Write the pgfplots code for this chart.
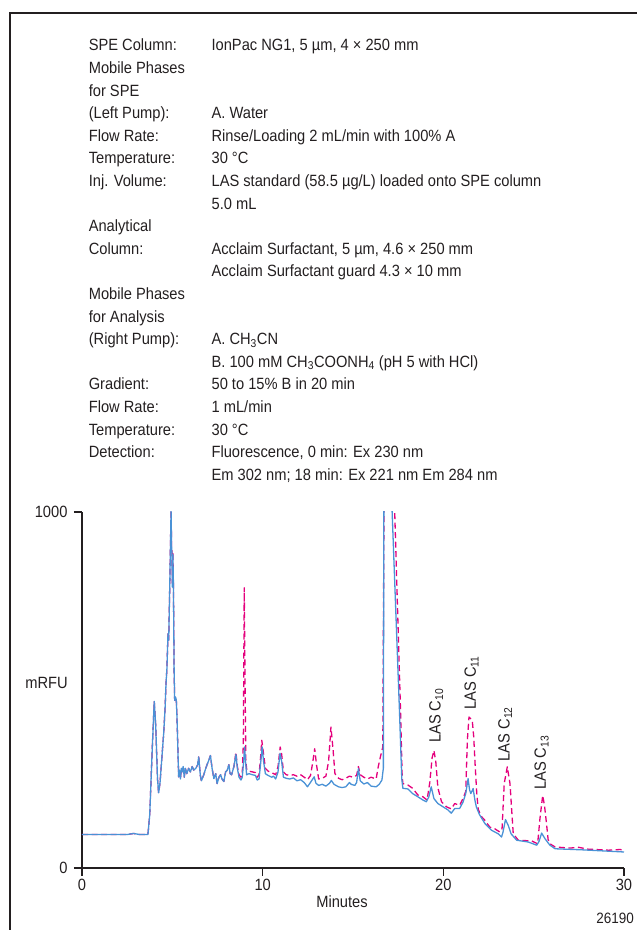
\documentclass[border=0pt]{standalone}
\usepackage{fontspec}
\setmainfont{Liberation Sans}[FakeStretch=0.9]
\usepackage{pgfplots}
\pgfplotsset{compat=1.18}
\definecolor{cblue}{RGB}{74,146,214}
\definecolor{cmag}{RGB}{228,0,124}
\definecolor{axc}{RGB}{35,31,32}
\newcommand\txtfont{\fontsize{16.3}{22.6}\selectfont}
\newcommand\row[3]{%
  \node[anchor=base west,inner sep=0pt,font=\txtfont,text=axc] at (88.6pt,{879pt-22.6pt*#1}) {#2};
  \node[anchor=base west,inner sep=0pt,font=\txtfont,text=axc] at (211.4pt,{879pt-22.6pt*#1}) {#3};}
\begin{document}
\begin{tikzpicture}
\useasboundingbox (0pt,0pt) rectangle (637pt,930pt);
\draw[line width=1.3pt, axc] (10pt,-2pt) -- (10pt,917pt) -- (640pt,917pt);
\row{0}{SPE Column:}{IonPac NG1, 5 µm, 4 × 250 mm}
\row{1}{Mobile Phases}{}
\row{2}{for SPE}{}
\row{3}{(Left Pump):}{A. Water}
\row{4}{Flow Rate:}{Rinse/Loading 2 mL/min with 100\% A}
\row{5}{Temperature:}{30 °C}
\row{6}{Inj. Volume:}{LAS standard (58.5 µg/L) loaded onto SPE column}
\row{7}{}{5.0 mL}
\row{8}{Analytical}{}
\row{9}{Column:}{Acclaim Surfactant, 5 µm, 4.6 × 250 mm}
\row{10}{}{Acclaim Surfactant guard 4.3 × 10 mm}
\row{11}{Mobile Phases}{}
\row{12}{for Analysis}{}
\row{13}{(Right Pump):}{A. CH\textsubscript{3}CN}
\row{14}{}{B. 100 mM CH\textsubscript{3}COONH\textsubscript{4} (pH 5 with HCl)}
\row{15}{Gradient:}{50 to 15\% B in 20 min}
\row{16}{Flow Rate:}{1 mL/min}
\row{17}{Temperature:}{30 °C}
\row{18}{Detection:}{Fluorescence, 0 min: Ex 230 nm}
\row{19}{}{Em 302 nm; 18 min: Ex 221 nm Em 284 nm}
\begin{axis}[
  at={(82pt,62pt)}, anchor=origin, scale only axis,
  width=542pt, height=356pt,
  xmin=0, xmax=30, ymin=0, ymax=1000,
  axis x line=bottom, axis y line=left,
  axis line style={-, line width=1.2pt, axc},
  xtick={0,10,20,30}, ytick={0,1000},
  tick align=outside, major tick length=8pt,
  tick style={line width=1.2pt, axc},
  ticklabel style={font=\txtfont, text=axc},
  yticklabel style={xshift=-3pt},
  /pgf/number format/assume math mode=true,
  /pgf/number format/1000 sep={},
  clip=true,
]
\addplot[cmag, line width=1.3pt, line join=round, dash pattern=on 6pt off 3.5pt] coordinates {
(0,94)(2.5,94)(2.85,97)(3.2,94)(3.65,94)(3.75,150)(3.9,350)(4.0,468)(4.08,400)(4.18,250)(4.24,211)(4.32,240)(4.45,330)(4.52,377)(4.6,450)(4.65,518)(4.7,560)(4.76,658)(4.8,640)(4.86,800)(4.93,1005)(4.96,900)(4.98,888)(5.0,800)(5.03,888)(5.06,800)(5.1,550)(5.13,471)(5.18,480)(5.22,471)(5.26,420)(5.35,256)(5.4,275)(5.45,250)(5.5,280)(5.54,270)(5.6,285)(5.66,255)(5.72,280)(5.8,265)(5.9,280)(6.0,270)(6.1,285)(6.18,275)(6.3,280)(6.4,290)(6.46,312)(6.55,260)(6.61,245)(6.74,262)(6.85,280)(6.92,290)(7.0,300)(7.11,316)(7.2,280)(7.3,251)(7.4,265)(7.48,237)(7.58,255)(7.67,262)(7.75,250)(7.85,243)(7.95,270)(8.04,275)(8.13,290)(8.2,265)(8.28,262)(8.41,285)
(8.52,325)(8.6,285)(8.69,262)(8.8,255)(8.87,265)(8.93,350)(8.98,787)(9.03,500)(9.07,300)(9.12,275)(9.24,272)(9.43,270)(9.6,268)(9.7,255)(9.8,262)(9.9,320)(9.95,359)(10.05,320)(10.15,280)(10.3,272)(10.5,268)(10.72,262)(10.85,285)(10.97,340)(11.05,320)(11.15,270)(11.3,262)(11.5,260)(11.7,262)(11.9,258)(12.1,262)(12.3,255)(12.48,248)(12.65,260)(12.78,300)(12.88,335)(12.98,290)(13.1,250)(13.3,252)(13.5,258)(13.65,300)(13.78,396)(13.9,330)(14.0,265)(14.2,252)(14.4,248)(14.6,252)(14.8,258)(15.0,255)(15.2,260)(15.3,285)(15.4,262)(15.6,255)(15.8,250)(16.0,255)(16.28,250)(16.4,285)(16.52,313)(16.65,340)(16.72,1050)(17.28,1050)(17.63,444)(17.72,260)(17.76,237)(18.04,233)(18.3,224)(18.59,205)(18.87,200)(19.1,191)(19.25,240)(19.38,310)(19.48,330)(19.58,300)(19.7,225)(19.9,186)(20.17,172)(20.44,166)(20.63,181)(20.9,176)(21.09,195)(21.24,215)(21.33,359)(21.42,424)(21.5,420)(21.6,415)(21.68,370)(21.76,290)(21.85,210)(21.93,165)(22.1,145)(22.3,134)(22.57,115)(22.85,110)(23.13,101)(23.25,110)(23.37,237)(23.54,284)(23.69,237)(23.8,150)(23.87,96)(24.15,78)(24.89,76)(25.22,68)(25.35,140)(25.5,204)(25.6,175)(25.7,130)(25.8,80)(25.9,68)(26.19,59)(27.0,56)(27.5,58)(28.0,53)(29.15,50)(29.8,52)(30,48)
};
\addplot[cblue, line width=1.3pt, line join=round] coordinates {
(0,94)(2.5,94)(2.85,97)(3.2,94)(3.65,94)(3.75,150)(3.9,350)(4.0,468)(4.08,400)(4.18,250)(4.24,211)(4.32,240)(4.45,330)(4.52,377)(4.6,450)(4.65,518)(4.7,560)(4.76,658)(4.8,640)(4.86,800)(4.93,1005)(4.96,900)(4.98,883)(5.0,789)(5.03,880)(5.06,800)(5.1,550)(5.13,471)(5.18,480)(5.22,471)(5.26,420)(5.35,256)(5.4,275)(5.45,250)(5.5,280)(5.54,270)(5.6,285)(5.66,255)(5.72,280)(5.8,265)(5.9,280)(6.0,270)(6.1,285)(6.18,275)(6.3,280)(6.4,290)(6.46,312)(6.55,260)(6.61,245)(6.74,262)(6.85,280)(6.92,290)(7.0,300)(7.11,316)(7.2,280)(7.3,251)(7.4,265)(7.48,237)(7.58,255)(7.67,262)(7.75,250)(7.85,243)(7.95,270)(8.04,275)(8.13,290)(8.2,265)(8.28,262)(8.41,285)(8.52,319)(8.6,280)(8.69,255)(8.8,247)(8.87,255)(8.95,300)(9.0,340)(9.05,300)(9.11,262)(9.24,265)(9.43,262)(9.6,260)(9.7,247)(9.8,250)(9.9,300)(9.97,340)(10.05,300)(10.15,265)(10.3,260)(10.5,255)(10.6,258)(10.72,250)(10.85,270)(10.96,322)(11.05,300)(11.15,255)(11.3,252)(11.5,250)(11.7,253)(11.9,245)(12.1,248)(12.3,240)(12.48,228)(12.6,237)(12.85,256)(12.95,238)(13.1,232)(13.3,235)(13.5,230)(13.7,238)(13.8,246)(13.95,235)(14.2,228)(14.4,226)(14.6,228)(14.8,240)(14.9,235)(15.1,232)(15.2,240)(15.3,279)(15.4,245)(15.6,236)(15.8,240)(16.0,230)(16.28,228)(16.45,235)(16.6,247)(16.68,280)(16.71,1050)(17.13,1050)(17.57,444)(17.7,250)(17.76,224)(18.04,222)(18.3,209)(18.59,200)(18.87,191)(19.06,186)(19.2,200)(19.33,228)(19.48,195)(19.7,181)(19.98,172)(20.26,163)(20.44,154)(20.63,167)(20.9,167)(21.09,185)(21.24,209)(21.37,251)(21.45,220)(21.52,209)(21.65,223)(21.75,190)(21.83,171)(22.0,150)(22.3,125)(22.67,106)(23.04,96)(23.22,87)(23.3,100)(23.44,136)(23.59,120)(23.75,96)(24.06,78)(24.7,73)(25.17,64)(25.3,75)(25.44,98)(25.63,82)(25.9,64)(26.19,54)(27.7,51)(30,45)
};
\node[rotate=90, anchor=west, inner sep=0pt, font=\txtfont, text=axc] at (axis cs:19.61,351) {LAS C\textsubscript{10}};
\node[rotate=90, anchor=west, inner sep=0pt, font=\txtfont, text=axc] at (axis cs:21.56,444) {LAS C\textsubscript{11}};
\node[rotate=90, anchor=west, inner sep=0pt, font=\txtfont, text=axc] at (axis cs:23.42,299) {LAS C\textsubscript{12}};
\node[rotate=90, anchor=west, inner sep=0pt, font=\txtfont, text=axc] at (axis cs:25.44,219) {LAS C\textsubscript{13}};
\end{axis}
\node[font=\txtfont, text=axc] at (46.5pt,247pt) {mRFU};
\node[font=\txtfont, text=axc] at (342pt,28.3pt) {Minutes};
\node[font=\fontsize{15}{18}\selectfont, anchor=east, inner sep=0pt, text=axc] at (634pt,12pt) {26190};
\end{tikzpicture}
\end{document}
